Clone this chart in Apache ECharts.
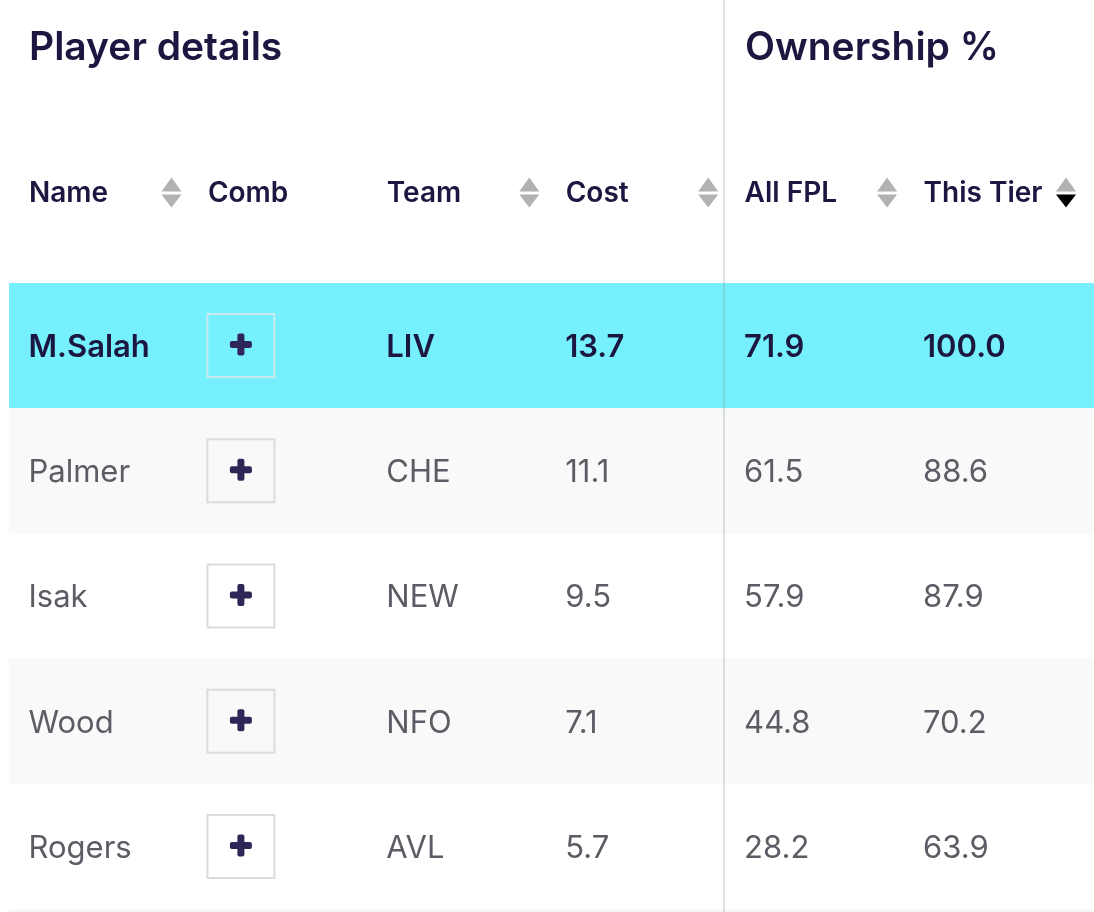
<!DOCTYPE html>
<html>
<head>
<meta charset="utf-8">
<style>
  html, body { margin: 0; padding: 0; background: #fff; }
  #chart { width: 1094px; height: 912px; }
</style>
<script src="https://cdn.jsdelivr.net/npm/echarts@6/dist/echarts.min.js"></script>
</head>
<body>
<div id="chart"></div>
<script>
const columns = ['Name', 'Comb', 'Team', 'Cost', 'All FPL', 'This Tier']
const sortableColumns = ['Name', 'Team', 'Cost', 'All FPL', 'This Tier']
const activeSort = 'This Tier'
const groupTitles = ['Player details', 'Ownership %']

const players = ['M.Salah', 'Palmer', 'Isak', 'Wood', 'Rogers']
const teams = ['LIV', 'CHE', 'NEW', 'NFO', 'AVL']
const costs = [13.7, 11.1, 9.5, 7.1, 5.7]
const allFpl = [71.9, 61.5, 57.9, 44.8, 28.2]
const thisTier = [100.0, 88.6, 87.9, 70.2, 63.9]

const FONT = 'Inter'
const INK = '#1c1740'
const GREY = '#5c5c64'

const cells = []
players.forEach((name, i) => {
    cells.push([0, i, name])
    cells.push([2, i, teams[i]])
    cells.push([3, i, costs[i].toFixed(1)])
    cells.push([4, i, allFpl[i].toFixed(1)])
    cells.push([5, i, thisTier[i].toFixed(1)])
})

function renderBand(params, api) {
    const i = params.dataIndex
    const p = api.coord([0, i])
    const h = api.size([0, 1])[1]
    const fill = i === 0 ? '#76f0fd' : (i % 2 === 1 ? '#f9f9f9' : '#ffffff')
    return {
        type: 'group',
        children: [
            { type: 'rect', shape: { x: p[0] - 20, y: p[1] - h / 2, width: api.getWidth() - p[0] + 20, height: h }, style: { fill: fill } },
            // faint rule closing the last row
            i === players.length - 1
                ? { type: 'rect', shape: { x: p[0] - 20, y: p[1] + h / 2, width: api.getWidth() - p[0] + 20, height: 3 }, style: { fill: '#f7f7f7' } }
                : { type: 'group' }
        ]
    }
}

function renderCell(params, api) {
    const c = cells[params.dataIndex]
    const p = api.coord([c[0], c[1]])
    return {
        type: 'text',
        x: p[0] - 0.5,
        y: p[1] + 2,
        style: {
            text: c[2],
            fontFamily: FONT,
            fontSize: 31,
            fontWeight: c[1] === 0 ? 600 : 400,
            fill: c[1] === 0 ? INK : GREY,
            align: 'left',
            verticalAlign: 'middle'
        }
    }
}

function renderPlus(params, api) {
    const p = api.coord([1, params.dataIndex])
    const cx = p[0] + 33
    const cy = p[1]
    const selected = params.dataIndex === 0
    return {
        type: 'group',
        children: [
            {
                type: 'rect',
                shape: { x: cx - 33.5, y: cy - 31.5, width: 67, height: 63 },
                style: { fill: 'transparent', stroke: selected ? '#c9e9ee' : '#dcdcdc', lineWidth: 2 }
            },
            { type: 'rect', shape: { x: cx - 11, y: cy - 4.5, width: 22, height: 7, r: 2 }, style: { fill: '#2f2657' } },
            { type: 'rect', shape: { x: cx - 3.5, y: cy - 12, width: 7, height: 22, r: 2 }, style: { fill: '#2f2657' } }
        ]
    }
}

function renderSort(params, api) {
    const name = sortableColumns[params.dataIndex]
    const p = api.coord([columns.indexOf(name), 0])
    const cx = p[0] + 142.5
    const cy = p[1] - 153
    const lower = name === activeSort ? '#000000' : '#b2b2b2'
    return {
        type: 'group',
        children: [
            { type: 'polygon', shape: { points: [[cx - 10, cy - 1], [cx + 10, cy - 1], [cx, cy - 15]] }, style: { fill: '#b2b2b2' } },
            { type: 'polygon', shape: { points: [[cx - 10, cy + 2], [cx + 10, cy + 2], [cx, cy + 15]] }, style: { fill: lower } }
        ]
    }
}

function renderDivider(params, api) {
    const p = api.coord(['All FPL', 0])
    return {
        type: 'rect',
        shape: { x: Math.round(p[0] - 22), y: 0, width: 2, height: api.getHeight() },
        style: { fill: 'rgba(120,140,150,0.25)' }
    }
}

const chart = echarts.init(document.getElementById('chart'), null, { renderer: 'canvas' })
chart.setOption({
    animation: false,
    backgroundColor: '#ffffff',
    title: groupTitles.map((t, i) => ({
        text: t,
        left: i === 0 ? 29 : 745,
        top: 29,
        padding: 0,
        textStyle: { fontFamily: FONT, fontSize: 39, fontWeight: 600, color: INK }
    })),
    grid: { left: 29, width: 894.5, top: 283, height: 626 },
    xAxis: {
        type: 'category',
        position: 'top',
        boundaryGap: false,
        data: columns,
        axisLine: { show: false },
        axisTick: { show: false },
        splitLine: { show: false },
        axisLabel: {
            interval: 0,
            margin: 89,
            align: 'left',
            verticalAlign: 'middle',
            fontFamily: FONT,
            fontSize: 28,
            fontWeight: 600,
            color: INK
        }
    },
    yAxis: {
        type: 'category',
        inverse: true,
        data: players,
        show: false
    },
    series: [
        { type: 'custom', clip: false, z: 1, silent: true, renderItem: renderBand, data: players.map((p, i) => [0, i]) },
        { type: 'custom', clip: false, z: 2, silent: true, renderItem: renderPlus, data: players.map((p, i) => [1, i]) },
        { type: 'custom', clip: false, z: 3, silent: true, renderItem: renderCell, data: cells.map(c => [c[0], c[1]]) },
        { type: 'custom', clip: false, z: 3, silent: true, renderItem: renderSort, data: sortableColumns.map((c, i) => [columns.indexOf(c), 0]) },
        { type: 'custom', clip: false, z: 4, silent: true, renderItem: renderDivider, data: [[4, 0]] }
    ]
})
</script>
</body>
</html>
